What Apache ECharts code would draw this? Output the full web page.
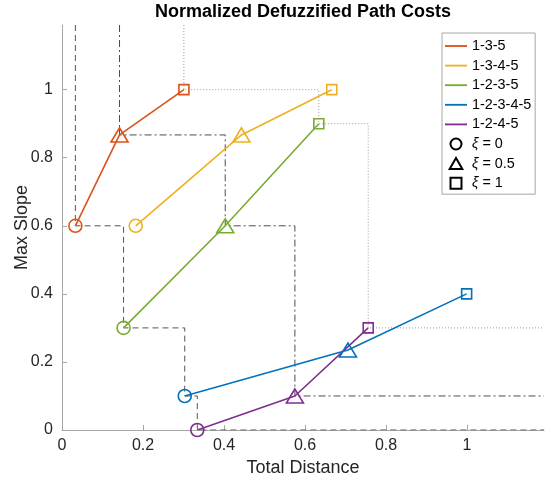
<!DOCTYPE html>
<html>
<head>
<meta charset="utf-8">
<title>Normalized Defuzzified Path Costs</title>
<script src="https://cdn.jsdelivr.net/npm/echarts@6/dist/echarts.min.js"></script>
<style>
  html, body { margin: 0; padding: 0; background: #fff; }
  #chart { width: 551px; height: 483px; }
</style>
</head>
<body>
<div id="chart"></div>
<script>
// path names + colours (matlab default order)
const pathNames = ['1-3-5', '1-3-4-5', '1-2-3-5', '1-2-3-4-5', '1-2-4-5'];
const pathColors = ['#D95319', '#EDB120', '#77AC30', '#0072BD', '#7E2F8E'];

// total distance / max slope at xi = 0, 0.5, 1
const dist135 = [0.033, 0.142, 0.301];
const slope135 = [0.6, 0.867, 1.0];
const dist1345 = [0.182, 0.443, 0.666];
const slope1345 = [0.6, 0.867, 1.0];
const dist1235 = [0.152, 0.403, 0.634];
const slope1235 = [0.3, 0.6, 0.9];
const dist12345 = [0.303, 0.706, 0.999];
const slope12345 = [0.1, 0.235, 0.4];
const dist1245 = [0.334, 0.575, 0.756];
const slope1245 = [0.0, 0.1, 0.3];

const xiLabels = ['ξ = 0', 'ξ = 0.5', 'ξ = 1'];
const xTicks = [0, 0.2, 0.4, 0.6, 0.8, 1];
const yTicks = [0, 0.2, 0.4, 0.6, 0.8, 1];

const xMax = 1.19;
const yMax = 1.19;
const font = '"Liberation Sans", Arial, Helvetica, sans-serif';

const pathDist = [dist135, dist1345, dist1235, dist12345, dist1245];
const pathSlope = [slope135, slope1345, slope1235, slope12345, slope1245];

// marker per xi
const xiSymbols = ['circle', 'triangle', 'rect'];
const xiSizes = [13, [17, 14], 10];
// legend icons as paths so they keep their aspect
const legendIcons = [
  'circle',
  'path://M6,0 L12,10.4 L0,10.4 Z',
  'path://M0,0 L10,0 L10,10 L0,10 Z'
];
// pareto front line styles per xi
const frontStyles = [
  { type: [6, 4], color: '#555555' },
  { type: [7, 3, 2, 3], color: '#4d4d4d' },
  { type: [1, 2], color: '#9a9a9a' }
];

// non-dominated points for one xi, sorted by distance
function paretoFront(k) {
  const pts = pathDist.map((d, i) => [d[k], pathSlope[i][k]]);
  pts.sort((a, b) => a[0] - b[0]);
  const front = [];
  let best = Infinity;
  pts.forEach(p => {
    if (p[1] < best) {
      front.push(p);
      best = p[1];
    }
  });
  return front;
}

const series = [];

// staircase fronts (drawn first, under the paths)
xiLabels.forEach((lbl, k) => {
  const front = paretoFront(k);
  const data = [[front[0][0], yMax]].concat(front, [[xMax, front[front.length - 1][1]]]);
  series.push({
    name: 'front' + k,
    type: 'line',
    step: 'end',
    data: data,
    showSymbol: false,
    silent: true,
    z: 1,
    lineStyle: { width: 1, type: frontStyles[k].type, color: frontStyles[k].color }
  });
});

pathNames.forEach((name, i) => {
  const c = pathColors[i];
  series.push({
    name: name,
    type: 'line',
    z: 3,
    data: pathDist[i].map((x, k) => ({
      value: [x, pathSlope[i][k]],
      symbol: xiSymbols[k],
      symbolSize: xiSizes[k]
    })),
    lineStyle: { color: c, width: 1.6 },
    itemStyle: { color: 'rgba(255,255,255,0)', borderColor: c, borderWidth: 1.6 },
    emphasis: { disabled: true }
  });
});

// marker-only legend entries
xiLabels.forEach(lbl => {
  series.push({ name: lbl, type: 'line', data: [] });
});

const legendData = pathNames.map((name, i) => ({
  name: name,
  icon: 'path://M0,0 L24,0 L24,2 L0,2 Z',
  itemStyle: { color: pathColors[i], borderWidth: 0 }
})).concat(xiLabels.map((lbl, k) => ({
  name: lbl,
  icon: legendIcons[k],
  itemStyle: { color: 'rgba(0,0,0,0)', borderColor: '#000', borderWidth: 2 }
})));

const option = {
  animation: false,
  backgroundColor: '#fff',
  textStyle: { fontFamily: font },
  title: {
    text: 'Normalized Defuzzified Path Costs',
    left: 303,
    top: 3,
    padding: 0,
    textAlign: 'center',
    textStyle: { fontFamily: font, fontSize: 18, fontWeight: 'bold', color: '#000' }
  },
  legend: {
    data: legendData,
    orient: 'vertical',
    left: 442,
    top: 33,
    padding: [5, 4, 3, 3],
    itemWidth: 22,
    itemHeight: 11,
    itemGap: 3.6,
    selectedMode: false,
    backgroundColor: '#fff',
    borderColor: '#a6a6a6',
    borderWidth: 1,
    borderRadius: 0,
    formatter: function (name) {
      return name.charAt(0) === 'ξ' ? '{i|ξ}' + name.slice(1) : name;
    },
    textStyle: {
      fontFamily: font,
      fontSize: 14.4,
      lineHeight: 16,
      color: '#000',
      rich: { i: { fontFamily: font, fontSize: 14.4, fontStyle: 'italic', color: '#000' } }
    }
  },
  grid: { left: 62, right: 7, top: 25, bottom: 53, containLabel: false, outerBoundsMode: 'none' },
  xAxis: {
    type: 'value',
    min: 0,
    max: xMax,
    name: 'Total Distance',
    nameLocation: 'middle',
    nameGap: 29,
    nameMoveOverlap: false,
    nameTextStyle: { fontFamily: font, fontSize: 18, color: '#262626' },
    axisLine: { show: true, lineStyle: { color: '#a6a6a6', width: 1 } },
    axisTick: { show: true, inside: true, length: 5, customValues: xTicks, lineStyle: { color: '#a6a6a6' } },
    axisLabel: { customValues: xTicks, fontFamily: font, fontSize: 16, color: '#262626', margin: 8 },
    splitLine: { show: false }
  },
  yAxis: {
    type: 'value',
    min: 0,
    max: yMax,
    name: 'Max Slope',
    nameLocation: 'middle',
    nameGap: 31,
    nameMoveOverlap: false,
    nameTextStyle: { fontFamily: font, fontSize: 18, color: '#262626' },
    axisLine: { show: true, lineStyle: { color: '#a6a6a6', width: 1 } },
    axisTick: { show: true, inside: true, length: 5, customValues: yTicks, lineStyle: { color: '#a6a6a6' } },
    axisLabel: { customValues: yTicks, fontFamily: font, fontSize: 16, color: '#262626', margin: 9 },
    splitLine: { show: false }
  },
  series: series
};

const chart = echarts.init(document.getElementById('chart'));
chart.setOption(option);
window.addEventListener('resize', chart.resize);
</script>
</body>
</html>
